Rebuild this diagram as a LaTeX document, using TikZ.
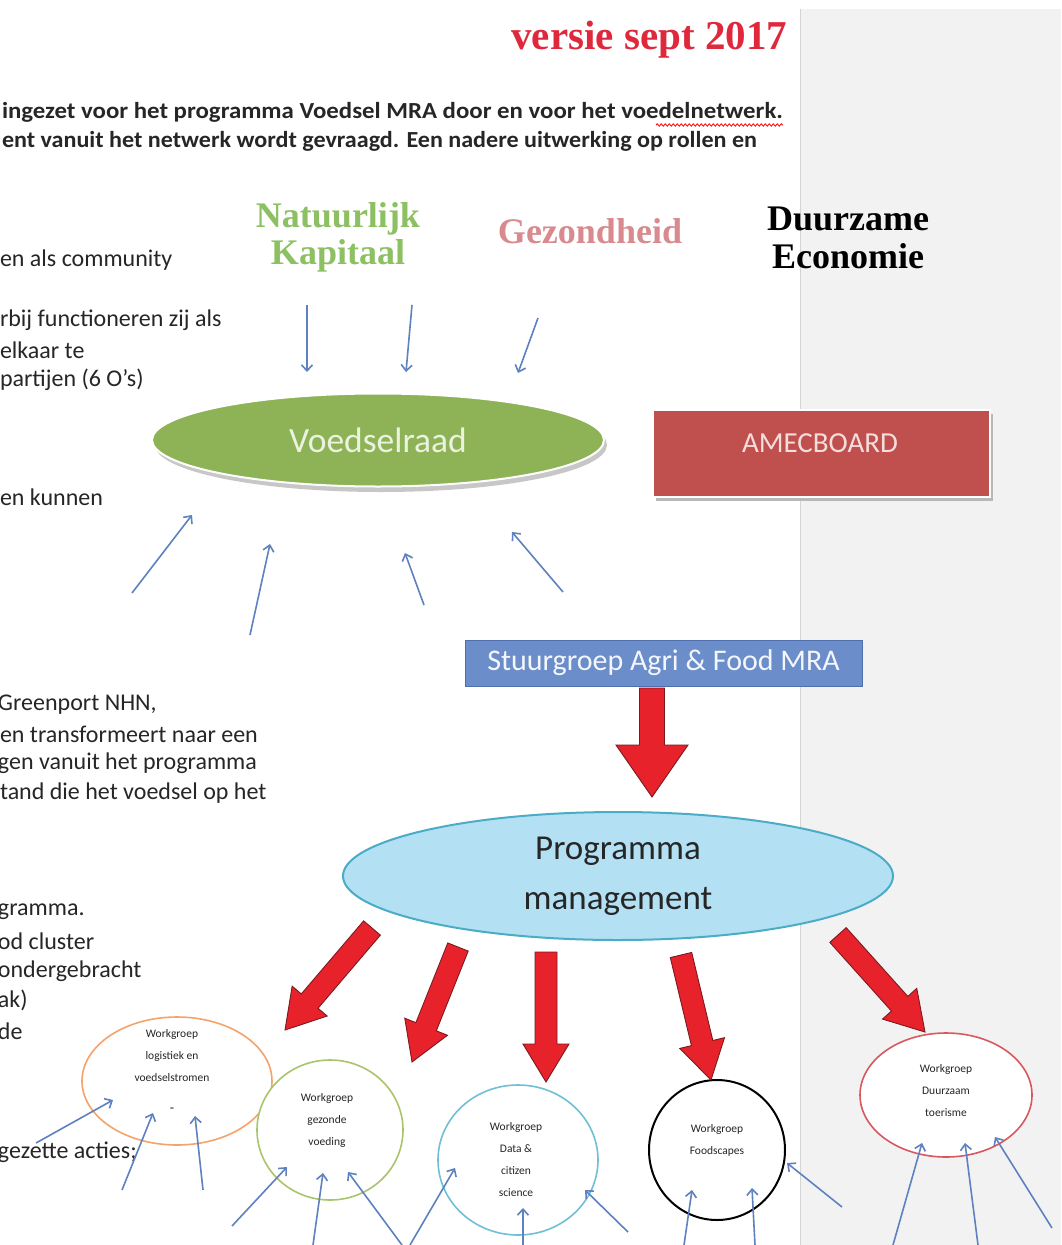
\documentclass[tikz,border=0pt]{standalone}
\usepackage{fontspec}
\setmainfont{Carlito}
\newfontfamily\heavyserif{Liberation Serif}
\usetikzlibrary{shapes.geometric,arrows.meta,calc,decorations.pathmorphing}
\definecolor{txtgray}{HTML}{262626}
\definecolor{panel}{HTML}{F2F2F2}
\definecolor{panelline}{HTML}{D4D4D4}
\definecolor{versred}{HTML}{E0283C}
\definecolor{natgreen}{HTML}{8CC063}
\definecolor{gezpink}{HTML}{D98A8E}
\definecolor{vgreen}{HTML}{8DB356}
\definecolor{vtext}{HTML}{EBF2DF}
\definecolor{amec}{HTML}{C0504D}
\definecolor{amectext}{HTML}{F4DEDD}
\definecolor{stuur}{HTML}{6B8DC9}
\definecolor{stuurline}{HTML}{4F6FAE}
\definecolor{pmfill}{HTML}{B3E0F2}
\definecolor{pmline}{HTML}{4BACC6}
\definecolor{arrblue}{HTML}{5E81BF}
\definecolor{bigred}{HTML}{E8222B}
\definecolor{bigredline}{HTML}{7A1A20}
\definecolor{wgorange}{HTML}{F4A46A}
\definecolor{wggreen}{HTML}{A9C46C}
\definecolor{wgblue}{HTML}{6FC0D6}
\definecolor{wgred}{HTML}{D9575E}
\newcommand\redblockarrow[5]{%
  \coordinate (ba-h) at ($(#2)!#5!(#1)$);
  \filldraw[bigarr] ($(#1)!#3!90:(#2)$) -- ($(ba-h)!#3!90:(#2)$) -- ($(ba-h)!#4!90:(#2)$) -- (#2)
    -- ($(ba-h)!#4!-90:(#2)$) -- ($(ba-h)!#3!-90:(#2)$) -- ($(#1)!#3!-90:(#2)$) -- cycle;}
\newcommand\bluearrow[3]{%
  \coordinate (#1s) at (#2); \coordinate (#1t) at (#3);
  \draw[thinarr] (#1s) -- (#1t);}
\begin{document}
\begin{tikzpicture}[x=1pt,y=-1pt,
  every node/.style={inner sep=0pt, outer sep=0pt},
  lefttxt/.style={anchor=west, font=\fontsize{24}{28}\selectfont, text=txtgray},
  toptxt/.style={anchor=west, font=\fontsize{23}{26}\selectfont\bfseries, text=txtgray},
  theme/.style={font=\heavyserif\bfseries\fontsize{36}{38}\selectfont},
  thinarr/.style={draw=arrblue, line width=1.6pt, -{Straight Barb[length=6pt,width=11pt]}},
  bigarr/.style={fill=bigred, draw=bigredline, line width=0.9pt, line join=miter},
  wg/.style={ellipse, draw, line width=1.6pt, fill=white},
  wgtxt/.style={font=\fontsize{11.5}{22}\selectfont, text=txtgray, align=center}]
\useasboundingbox (0,0) rectangle (1061,1245);
\fill[white] (0,0) rectangle (1061,1245);
\fill[panel] (800,9) rectangle (1061,1245);
\draw[panelline, line width=1pt] (800,9) -- (800,1245);

% header
\node[anchor=east, font=\heavyserif\bfseries\fontsize{41}{43}\selectfont, text=versred] (vers) at (787,40) {versie sept 2017};
\node[toptxt] (top1) at (2,112) {\resizebox{781pt}{\height}{ingezet voor het programma Voedsel MRA door en voor het voedelnetwerk.}};
\node[toptxt] (top2) at (2,141) {\resizebox{755pt}{\height}{ent vanuit het netwerk wordt gevraagd. Een nadere uitwerking op rollen en}};
\coordinate (sq1) at (656,125); \coordinate (sq2) at (783,125);
\draw[red, line width=0.8pt, decorate, decoration={snake, amplitude=1.2pt, segment length=4pt}] (sq1) -- (sq2);

% left text fragments
\node[lefttxt] (l1) at (0,260) {en als community};
\node[lefttxt] (l2) at (0,320) {rbij functioneren zij als};
\node[lefttxt] (l3) at (0,350) {elkaar te};
\node[lefttxt] (l4) at (0,380) {partijen (6 O’s)};
\node[lefttxt] (l5) at (0,497) {en kunnen};
\node[lefttxt] (l6) at (-2,705) {Greenport NHN,};
\node[lefttxt] (l7) at (0,734) {en transformeert naar een};
\node[lefttxt] (l8) at (-2,763) {gen vanuit het programma};
\node[lefttxt] (l9) at (0,793) {tand die het voedsel op het};
\node[lefttxt] (l10) at (-2,912) {gramma.};
\node[lefttxt] (l11) at (-2,941) {od cluster};
\node[lefttxt] (l12) at (-2,971) {ondergebracht};
\node[lefttxt] (l13) at (-2,1000) {ak)};
\node[lefttxt] (l14) at (-2,1031) {de};
\node[lefttxt] (l15) at (-2,1152) {gezette acties;};

% themes
\node[theme, text=natgreen] (nat1) at (338,219) {Natuurlijk};
\node[theme, text=natgreen] (nat2) at (338,256) {Kapitaal};
\node[theme, text=gezpink] (gez) at (590,231) {Gezondheid};
\node[theme, text=black] (duu1) at (848,219) {Duurzame};
\node[theme, text=black] (duu2) at (848,256) {Economie};

% Voedselraad
\fill[black!22] (381,445) ellipse [x radius=226, y radius=47];
\node[ellipse, fill=vgreen, draw=white, line width=2pt, minimum width=452, minimum height=93,
      text=vtext, font=\fontsize{35.5}{38}\selectfont] (vr) at (378,440) {Voedselraad};

% AMECBOARD
\fill[black!28] (656,414) rectangle (993,501);
\node[draw=white, line width=2.2pt, fill=amec, minimum width=337, minimum height=87] (amec) at (821.5,453.5) {};
\node[text=amectext, font=\fontsize{29}{30}\selectfont] (amect) at (820,443) {AMECBOARD};

% Stuurgroep
\node[draw=stuurline, line width=1pt, fill=stuur, minimum width=397, minimum height=46,
      text=white!92!stuur, font=\fontsize{30}{30}\selectfont] (stuur) at (663.5,663) {Stuurgroep Agri \& Food MRA};

% Programma management
\node[ellipse, fill=pmfill, draw=pmline, line width=2pt, minimum width=550, minimum height=128,
      align=center, text=txtgray, font=\fontsize{35}{50}\selectfont] (pm) at (618,876) {Programma\\management};

% workgroups
\node[wg, draw=wgorange, minimum width=190, minimum height=128] (wgA) at (177,1081) {};
\node[wgtxt] (wgAt) at (172,1056) {Workgroep\\logistiek en\\voedselstromen};
\node[wgtxt, font=\fontsize{14}{16}\selectfont] (wgAd) at (172,1110) {-};
\node[wg, draw=wggreen, minimum width=146, minimum height=140] (wgB) at (330,1130) {};
\node[wgtxt] (wgBt) at (327,1120) {Workgroep\\gezonde\\voeding};
\node[wg, draw=wgblue, minimum width=160, minimum height=150] (wgC) at (518,1160) {};
\node[wgtxt] (wgCt) at (516,1160) {Workgroep\\Data \&\\citizen\\science};
\node[wg, draw=black, line width=2pt, minimum width=136, minimum height=140] (wgD) at (717,1150) {};
\node[wgtxt] (wgDt) at (717,1140) {Workgroep\\Foodscapes};
\node[wg, draw=wgred, minimum width=172, minimum height=124] (wgE) at (946,1095) {};
\node[wgtxt] (wgEt) at (946,1091) {Workgroep\\Duurzaam\\toerisme};

% red block arrows
\coordinate (r0s) at (652,688); \coordinate (r0t) at (652,797);
\redblockarrow{r0s}{r0t}{12.5pt}{36pt}{52pt}
\coordinate (r1s) at (372,928); \coordinate (r1t) at (285,1030);
\redblockarrow{r1s}{r1t}{11pt}{23pt}{38pt}
\coordinate (r2s) at (458,947); \coordinate (r2t) at (412,1062);
\redblockarrow{r2s}{r2t}{11pt}{23pt}{38pt}
\coordinate (r3s) at (546,952); \coordinate (r3t) at (546,1082);
\redblockarrow{r3s}{r3t}{11pt}{23pt}{38pt}
\coordinate (r4s) at (681,955); \coordinate (r4t) at (711,1080);
\redblockarrow{r4s}{r4t}{11pt}{23pt}{38pt}
\coordinate (r5s) at (838,935); \coordinate (r5t) at (925,1032);
\redblockarrow{r5s}{r5t}{11pt}{23pt}{38pt}

% thin blue arrows
\bluearrow{t1}{307,305}{307,372}
\bluearrow{t2}{412,305}{406,372}
\bluearrow{t3}{538,318}{518,373}
\bluearrow{b1}{132,593}{192,515}
\bluearrow{b2}{250,635}{270,544}
\bluearrow{b3}{424,605}{405,553}
\bluearrow{b4}{563,592}{512,532}
\bluearrow{a1}{36,1143}{113,1100}
\bluearrow{a2}{122,1190}{153,1113}
\bluearrow{a3}{203,1190}{195,1116}
\bluearrow{g1}{232,1226}{287,1167}
\bluearrow{g2}{313,1245}{323,1173}
\bluearrow{g3}{402,1245}{348,1172}
\bluearrow{c1}{410,1245}{455,1168}
\bluearrow{c2}{523,1245}{523,1208}
\bluearrow{c3}{628,1232}{585,1190}
\bluearrow{d1}{684,1245}{692,1190}
\bluearrow{d2}{755,1245}{752,1188}
\bluearrow{d3}{842,1207}{787,1163}
\bluearrow{e1}{893,1245}{922,1143}
\bluearrow{e2}{978,1245}{965,1143}
\bluearrow{e3}{1052,1228}{995,1137}
\end{tikzpicture}
\end{document}
